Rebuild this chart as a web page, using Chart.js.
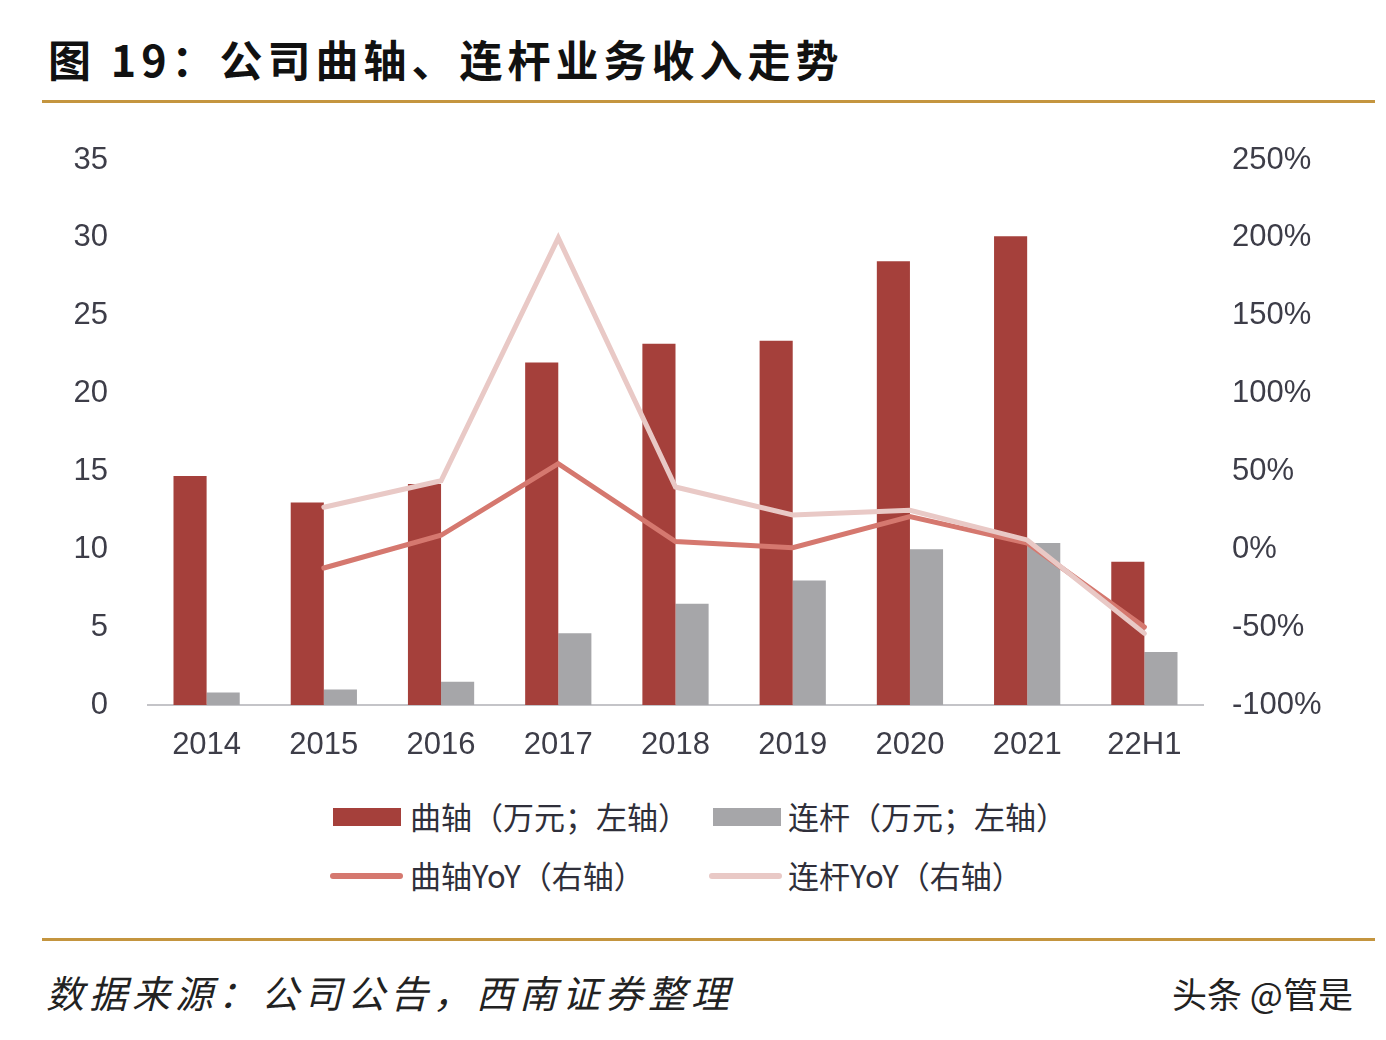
<!DOCTYPE html>
<html lang="zh">
<head>
<meta charset="UTF-8">
<title>公司曲轴、连杆业务收入走势</title>
<script src="https://cdn.jsdelivr.net/npm/chart.js"></script>
<style>
    body { margin: 0; background: #fff; }
    .page { position: relative; width: 1386px; height: 1040px; overflow: hidden; background: #fff; }
    .title { position: absolute; left: 48px; top: 27px; font: bold 43px "Noto Sans CJK SC"; color: #111; letter-spacing: 5px; white-space: nowrap; }
    .rule { position: absolute; left: 42px; width: 1333px; height: 3px; background: #c4953f; }
    .chart-box { position: absolute; left: 0; top: 120px; width: 1386px; height: 665px; }
    .legend { position: absolute; left: 0; top: 0; font: 31px "Noto Sans CJK SC"; color: #2f2f3a; }
    .legend .item { position: absolute; white-space: nowrap; }
    .legend .swatch { position: absolute; }
    .source { position: absolute; left: 46px; top: 964px; font: italic 38px "Noto Sans CJK SC"; color: #222; letter-spacing: 5px; white-space: nowrap; }
    .mark { position: absolute; left: 1172px; top: 967px; font: 35px "Noto Sans CJK SC"; color: #222; white-space: nowrap; }
</style>
</head>
<body>
<div class="page">
    <div class="title">图 19：公司曲轴、连杆业务收入走势</div>
    <div class="rule" style="top:100px"></div>

    <div class="chart-box"><canvas id="chart" width="1386" height="665"></canvas></div>

    <!-- Legend -->
    <div class="legend" id="legend"></div>

    <div class="rule" style="top:938px"></div>
    <div class="source">数据来源：公司公告，西南证券整理</div>
    <div class="mark">头条 @管是</div>
</div>

<script>
    const categories = ["2014", "2015", "2016", "2017", "2018", "2019", "2020", "2021", "22H1"];

    // 万元, left axis
    const crankRevenue = [14.7, 13.0, 14.2, 22.0, 23.2, 23.4, 28.5, 30.1, 9.2];
    const rodRevenue = [0.8, 1.0, 1.5, 4.6, 6.5, 8.0, 10.0, 10.4, 3.4];

    // %, right axis
    const crankYoY = [null, -12, 9, 55, 5, 1, 21, 4, -50];
    const rodYoY = [null, 27, 44, 200, 40, 22, 25, 6, -54];

    const leftTicks = [0, 5, 10, 15, 20, 25, 30, 35];
    const rightTicks = [-100, -50, 0, 50, 100, 150, 200, 250];

    const seriesNames = ["曲轴（万元；左轴）", "连杆（万元；左轴）", "曲轴YoY（右轴）", "连杆YoY（右轴）"];
    const seriesColors = ["#a5403b", "#a6a6a9", "#d5786f", "#e9c9c6"];

    const tickFont = { family: "'Liberation Sans', Arial, sans-serif", size: 31 };
    const tickColor = "#3d3d48";

    const ctx = document.getElementById("chart").getContext("2d");
    new Chart(ctx, {
        data: {
            labels: categories,
            datasets: [
                {
                    type: "bar", label: seriesNames[0], data: crankRevenue, yAxisID: "y",
                    backgroundColor: seriesColors[0], order: 3,
                    barPercentage: 1, categoryPercentage: 0.565
                },
                {
                    type: "bar", label: seriesNames[1], data: rodRevenue, yAxisID: "y",
                    backgroundColor: seriesColors[1], order: 3,
                    barPercentage: 1, categoryPercentage: 0.565
                },
                {
                    type: "line", label: seriesNames[2], data: crankYoY, yAxisID: "y1",
                    borderColor: seriesColors[2], borderWidth: 5, pointRadius: 0,
                    tension: 0, order: 1, borderCapStyle: "round"
                },
                {
                    type: "line", label: seriesNames[3], data: rodYoY, yAxisID: "y1",
                    borderColor: seriesColors[3], borderWidth: 5, pointRadius: 0,
                    tension: 0, order: 0, borderCapStyle: "round"
                }
            ]
        },
        options: {
            responsive: false,
            animation: false,
            layout: { padding: { top: 40, left: 0, right: 0, bottom: 0 } },
            plugins: {
                legend: { display: false },
                tooltip: { enabled: false }
            },
            scales: {
                x: {
                    grid: { display: false, drawTicks: false },
                    border: { display: true, color: "#c4c4c8", width: 2 },
                    ticks: { font: tickFont, color: tickColor, padding: 22, maxRotation: 0 },
                    afterFit: s => { s.height = 80; }
                },
                y: {
                    position: "left",
                    min: 0, max: 35,
                    grid: { display: false, drawTicks: false },
                    border: { display: false },
                    afterBuildTicks: s => { s.ticks = leftTicks.map(v => ({ value: v })); },
                    ticks: { font: tickFont, color: tickColor, padding: 40 },
                    afterFit: s => { s.width = 148; s.paddingTop = 0; }
                },
                y1: {
                    position: "right",
                    min: -100, max: 250,
                    grid: { display: false, drawTicks: false },
                    border: { display: false },
                    afterBuildTicks: s => { s.ticks = rightTicks.map(v => ({ value: v })); },
                    ticks: { font: tickFont, color: tickColor, padding: 29, callback: v => v + "%" },
                    afterFit: s => { s.width = 183; s.paddingTop = 0; }
                }
            }
        }
    });

    // HTML legend, two columns like the original
    const legendPos = [
        { box: [333, 808, 68, 18], text: [410, 793] },
        { box: [713, 808, 68, 18], text: [788, 793] },
        { line: [330, 873, 73, 6], text: [410, 852] },
        { line: [709, 873, 73, 6], text: [788, 852] }
    ];
    const legend = document.getElementById("legend");
    seriesNames.forEach((name, i) => {
        const p = legendPos[i];
        const r = p.box || p.line;
        const sw = document.createElement("div");
        sw.className = "swatch";
        sw.style.cssText = `left:${r[0]}px;top:${r[1]}px;width:${r[2]}px;height:${r[3]}px;background:${seriesColors[i]};` +
            (p.line ? "border-radius:3px;" : "");
        legend.appendChild(sw);
        const t = document.createElement("div");
        t.className = "item";
        t.style.left = p.text[0] + "px";
        t.style.top = p.text[1] + "px";
        t.textContent = name;
        legend.appendChild(t);
    });
</script>
</body>
</html>
